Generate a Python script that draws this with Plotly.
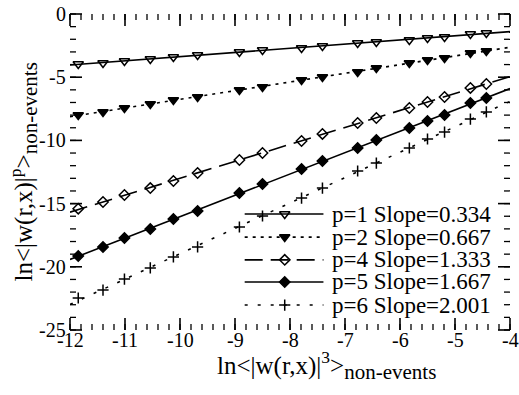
import numpy as np
import plotly.graph_objects as go

# x: ln<|w(r,x)|^3>_non-events
x_vals = [-11.85, -11.40, -11.01, -10.54, -10.12, -9.68, -8.92, -8.50, -7.79,
          -7.41, -6.77, -6.43, -5.83, -5.50, -5.19, -4.72, -4.43]

p1 = [-3.96, -3.88, -3.72, -3.56, -3.40, -3.24, -3.01, -2.85, -2.69,
      -2.53, -2.29, -2.22, -2.06, -1.90, -1.82, -1.58, -1.50]
p2 = [-7.99, -7.75, -7.44, -7.12, -6.80, -6.57, -6.01, -5.78, -5.22,
      -4.98, -4.59, -4.27, -3.88, -3.64, -3.48, -3.09, -2.93]
p4 = [-15.40, -14.87, -14.32, -13.77, -13.21, -12.58, -11.55, -11.00, -10.05,
      -9.49, -8.62, -8.23, -7.44, -6.96, -6.57, -5.85, -5.54]
p5 = [-19.15, -18.43, -17.72, -17.01, -16.22, -15.59, -14.16, -13.45, -12.26,
      -11.63, -10.60, -9.97, -9.02, -8.47, -7.99, -7.04, -6.65]
p6 = [-22.47, -21.84, -20.97, -20.09, -19.22, -18.43, -16.85, -15.98, -14.56,
      -13.77, -12.42, -11.79, -10.60, -9.89, -9.34, -8.31, -7.75]

labels = ["p=1 Slope=0.334", "p=2 Slope=0.667", "p=4 Slope=1.333",
          "p=5 Slope=1.667", "p=6 Slope=2.001"]

x_ticks = [-12, -11, -10, -9, -8, -7, -6, -5, -4]
x_ticktext = ["-12", "-11", "-10", "-9", "-8", "-7", "-6", "-5", "-4"]
y_ticks = [-25, -20, -15, -10, -5, 0]
y_ticktext = ["-25", "-20", "-15", "-10", "-5", "0"]
x_minor = [round(-12 + 0.2 * i, 2) for i in range(41)]
y_minor = list(range(-25, 1))

series = [p1, p2, p4, p5, p6]
symbols = ["triangle-down-open", "triangle-down", "diamond-open", "diamond", "cross-thin"]
dashes = ["solid", "3px,5px", "18px,8px", "solid", "3px,10px"]
msizes = [9, 9, 8, 8, 8]

FONT = "Liberation Serif"
W, H = 519, 395
ML, MR, MT, MB = 70, 9, 14, 65
XR, YR = (-12.0, -4.0), (-25.0, 0.0)
PW, PH = W - ML - MR, H - MT - MB
MAJ, MIN = 12, 6

# legend layout (fractions of the plot area)
LEG_X0, LEG_XM, LEG_X1, LEG_TX = 0.397, 0.488, 0.576, 0.592
LEG_Y = [0.367, 0.294, 0.222, 0.152, 0.079]

fig = go.Figure()


def fx(v):  # data x -> fraction of plot width
    return (v - XR[0]) / (XR[1] - XR[0])


def fy(v):  # data y -> fraction of plot height
    return (v - YR[0]) / (YR[1] - YR[0])


def tick_marks(length, width, xv, yv):
    # inside ticks on all four sides, drawn as line markers (length = 1.4 * size)
    hy, hx = length / 2 / PH, length / 2 / PW
    ns_x = [fx(v) for v in xv] * 2
    ns_y = [hy] * len(xv) + [1 - hy] * len(xv)
    ew_x = [hx] * len(yv) + [1 - hx] * len(yv)
    ew_y = [fy(v) for v in yv] * 2
    for sx, sy, sym in ((ns_x, ns_y, "line-ns"), (ew_x, ew_y, "line-ew")):
        fig.add_trace(go.Scatter(x=sx, y=sy, mode="markers", xaxis="x2", yaxis="y2",
                                 showlegend=False, hoverinfo="skip", cliponaxis=False,
                                 marker=dict(symbol=sym, size=length / 1.4, color="black",
                                             line=dict(color="black", width=width))))


# frame: short line markers laid end to end just along the four edges
SEG = 16
SEGLEN = SEG * 1.4
OFF = 0.5
fx_pts = list(np.linspace(SEGLEN / 2 / PW, 1 - SEGLEN / 2 / PW, int(PW / (SEGLEN * 0.8)) + 1))
fy_pts = list(np.linspace(SEGLEN / 2 / PH, 1 - SEGLEN / 2 / PH, int(PH / (SEGLEN * 0.8)) + 1))
bx, by = OFF / PW, OFF / PH
for sx, sy, sym in ((fx_pts * 2, [-by] * len(fx_pts) + [1 + by] * len(fx_pts), "line-ew"),
                    ([-bx] * len(fy_pts) + [1 + bx] * len(fy_pts), fy_pts * 2, "line-ns")):
    fig.add_trace(go.Scatter(x=sx, y=sy, mode="markers", xaxis="x2", yaxis="y2",
                             showlegend=False, hoverinfo="skip", cliponaxis=False,
                             marker=dict(symbol=sym, size=SEG, color="black",
                                         line=dict(color="black", width=2))))
tick_marks(MIN, 1.3, x_minor, y_minor)
tick_marks(MAJ, 1.6, x_ticks, y_ticks)

xr = np.array(XR)
for ys, sym, dash, lab, ms, ly in zip(series, symbols, dashes, labels, msizes, LEG_Y):
    mk = dict(symbol=sym, size=ms, color="black", line=dict(color="black", width=1.5))
    k, b = np.polyfit(x_vals, ys, 1)
    fig.add_trace(go.Scatter(x=xr, y=k * xr + b, mode="lines",
                             line=dict(color="black", width=1.6, dash=dash),
                             showlegend=False, hoverinfo="skip"))
    fig.add_trace(go.Scatter(x=x_vals, y=ys, mode="markers", name=lab,
                             marker=mk, showlegend=False))
    # legend sample on overlay axes
    fig.add_trace(go.Scatter(x=[LEG_X0, LEG_X1], y=[ly, ly], mode="lines",
                             xaxis="x2", yaxis="y2", showlegend=False, hoverinfo="skip",
                             line=dict(color="black", width=1.6, dash=dash)))
    fig.add_trace(go.Scatter(x=[LEG_XM], y=[ly], mode="markers",
                             xaxis="x2", yaxis="y2", showlegend=False, hoverinfo="skip",
                             marker=mk))
    fig.add_annotation(x=LEG_TX, y=ly, xref="paper", yref="paper", text=lab,
                       showarrow=False, xanchor="left", yanchor="middle",
                       font=dict(family=FONT, size=23, color="black"))

# tick labels
for v, t in zip(x_ticks, x_ticktext):
    fig.add_annotation(x=v, y=0, xref="x", yref="paper", text=t, showarrow=False,
                       xanchor="center", yanchor="middle", yshift=-10,
                       font=dict(family=FONT, size=20, color="black"))
for v, t in zip(y_ticks, y_ticktext):
    fig.add_annotation(x=0, y=v, xref="paper", yref="y", text=t, showarrow=False,
                       xanchor="right", yanchor="middle", xshift=-2,
                       font=dict(family=FONT, size=20, color="black"))

fig.update_layout(
    width=W, height=H,
    margin=dict(l=ML, r=MR, t=MT, b=MB),
    paper_bgcolor="white", plot_bgcolor="white",
    font=dict(family=FONT, color="black"),
    showlegend=False,
    xaxis=dict(range=list(XR), showticklabels=False, ticks="", showline=False,
               showgrid=False, zeroline=False),
    yaxis=dict(range=list(YR), showticklabels=False, ticks="", showline=False,
               showgrid=False, zeroline=False),
    xaxis2=dict(range=[0, 1], overlaying="x", visible=False, fixedrange=True),
    yaxis2=dict(range=[0, 1], overlaying="y", visible=False, fixedrange=True),
)

fig.add_annotation(x=0.584, y=-0.112, xref="paper", yref="paper", showarrow=False,
                   xanchor="center", yanchor="middle",
                   text="ln&lt;|w(r,x)|<sup>3</sup>&gt;<sub><span style=\"font-size:21px\">non-events</span></sub>",
                   font=dict(family=FONT, size=25, color="black"))
fig.add_annotation(x=-0.1057, y=0.5, xref="paper", yref="paper", showarrow=False,
                   xanchor="center", yanchor="middle", textangle=-90,
                   text="ln&lt;|w(r,x)|<sup>p</sup>&gt;<sub><span style=\"font-size:21px\">non-events</span></sub>",
                   font=dict(family=FONT, size=25, color="black"))

fig.write_html("out.html")
